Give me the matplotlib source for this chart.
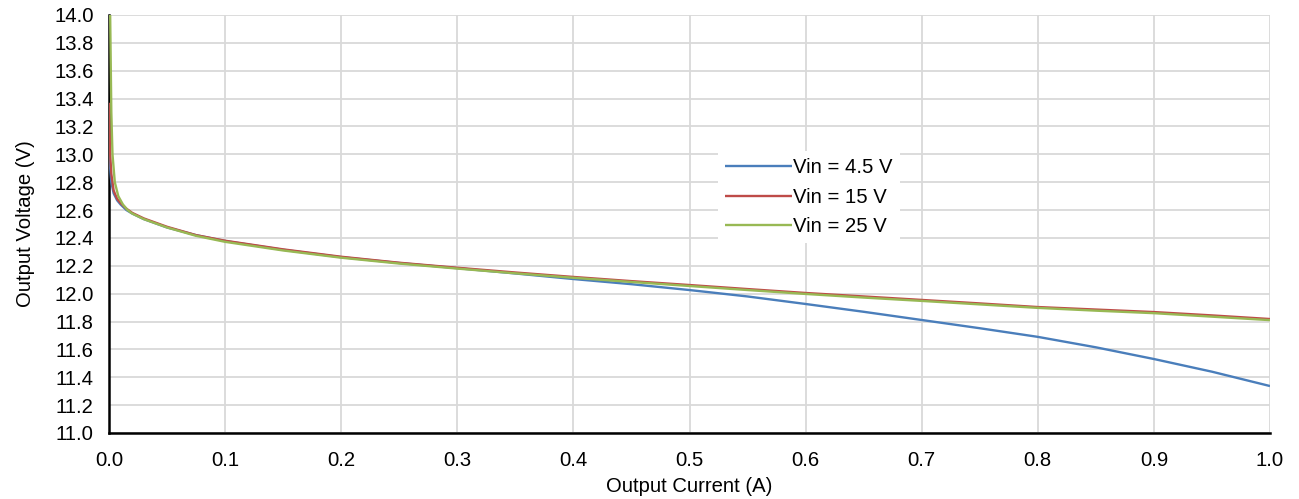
import matplotlib
matplotlib.use("Agg")
import matplotlib.pyplot as plt
from matplotlib.ticker import FormatStrFormatter

plt.rcParams['font.family'] = ['Liberation Sans', 'DejaVu Sans']

# Output current (A)
current_45 = [0.0, 0.001, 0.002, 0.004, 0.007, 0.01, 0.015, 0.02, 0.03, 0.05, 0.075,
              0.1, 0.15, 0.2, 0.25, 0.3, 0.35, 0.4, 0.45, 0.5, 0.55, 0.6, 0.65,
              0.7, 0.75, 0.8, 0.85, 0.9, 0.95, 1.0]
vout_45 = [13.05, 12.9, 12.8, 12.72, 12.67, 12.64, 12.60, 12.575, 12.535, 12.475, 12.42,
           12.378, 12.315, 12.262, 12.22, 12.183, 12.145, 12.105, 12.068, 12.026, 11.98,
           11.926, 11.87, 11.811, 11.752, 11.69, 11.615, 11.531, 11.44, 11.337]

current_15 = [0.0, 0.001, 0.002, 0.004, 0.007, 0.01, 0.015, 0.02, 0.03, 0.05, 0.075,
              0.1, 0.15, 0.2, 0.25, 0.3, 0.35, 0.4, 0.45, 0.5, 0.55, 0.6, 0.65,
              0.7, 0.75, 0.8, 0.85, 0.9, 0.95, 1.0]
vout_15 = [13.37, 13.0, 12.86, 12.74, 12.68, 12.65, 12.61, 12.58, 12.54, 12.48, 12.42,
           12.38, 12.318, 12.265, 12.222, 12.186, 12.152, 12.12, 12.09, 12.062, 12.033,
           12.005, 11.98, 11.955, 11.93, 11.904, 11.886, 11.868, 11.844, 11.818]

current_25 = [0.0, 0.001, 0.002, 0.003, 0.005, 0.008, 0.012, 0.016, 0.02, 0.03, 0.05, 0.075,
              0.1, 0.15, 0.2, 0.25, 0.3, 0.35, 0.4, 0.45, 0.5, 0.55, 0.6, 0.65,
              0.7, 0.75, 0.8, 0.85, 0.9, 0.95, 1.0]
vout_25 = [15.0, 14.0, 13.3, 13.0, 12.8, 12.7, 12.64, 12.6, 12.575, 12.535, 12.475, 12.415,
           12.372, 12.31, 12.258, 12.216, 12.18, 12.146, 12.114, 12.084, 12.055, 12.026,
           11.998, 11.972, 11.948, 11.923, 11.898, 11.878, 11.86, 11.835, 11.81]

series_labels = ['Vin = 4.5 V', 'Vin = 15 V', 'Vin = 25 V']
colors = ['#4a7ebb', '#be4b48', '#98b954']

x_ticks = [0.0, 0.1, 0.2, 0.3, 0.4, 0.5, 0.6, 0.7, 0.8, 0.9, 1.0]
y_ticks = [11.0, 11.2, 11.4, 11.6, 11.8, 12.0, 12.2, 12.4, 12.6, 12.8, 13.0,
           13.2, 13.4, 13.6, 13.8, 14.0]

FS = 14.6

fig = plt.figure(figsize=(12.99, 4.99), dpi=100)
ax = fig.add_axes([109/1299, 1-433/499, (1270-109)/1299, (433-15)/499])

data = [(current_45, vout_45), (current_15, vout_15), (current_25, vout_25)]
for (x, y), lab, c in zip(data, series_labels, colors):
    ax.plot(x, y, color=c, lw=1.7, label=lab, solid_capstyle='butt', clip_on=True)

ax.set_xlim(0, 1.0)
ax.set_ylim(11.0, 14.0)
ax.set_xticks(x_ticks)
ax.set_yticks(y_ticks)
ax.xaxis.set_major_formatter(FormatStrFormatter('%.1f'))
ax.yaxis.set_major_formatter(FormatStrFormatter('%.1f'))
ax.tick_params(length=0, labelsize=FS)
ax.tick_params(axis='y', pad=11)
ax.tick_params(axis='x', pad=13)
ax.grid(True, color='#d9d9d9', lw=1.3)
ax.set_axisbelow(True)
for s in ['top', 'right']:
    ax.spines[s].set_visible(False)
for s in ['left', 'bottom']:
    ax.spines[s].set_color('black')
    ax.spines[s].set_linewidth(1.8)
    ax.spines[s].set_zorder(1.5)

ax.set_xlabel('Output Current (A)', fontsize=FS, labelpad=5)
ax.set_ylabel('Output Voltage (V)', fontsize=FS, labelpad=14)

leg = ax.legend(loc='upper left', bbox_to_anchor=((718-109)/1161, (433-151)/418),
                frameon=True, fancybox=False, edgecolor='none', facecolor='white',
                framealpha=1, fontsize=FS, handlelength=3.3, handletextpad=0.05,
                labelspacing=0.52, borderpad=0.35, borderaxespad=0)

fig.savefig('out.png', dpi=100)
